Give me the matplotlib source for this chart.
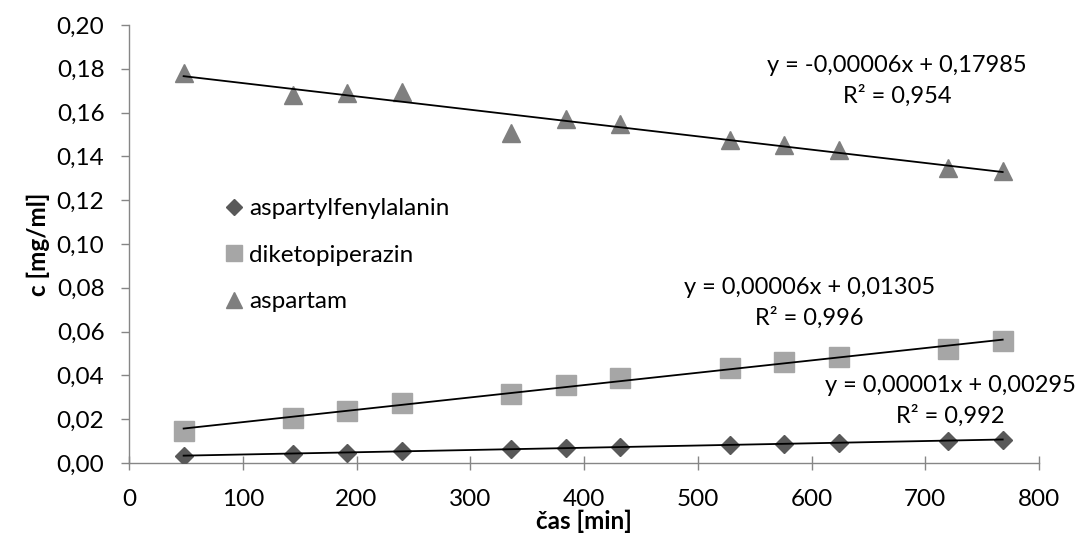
import matplotlib
matplotlib.use("Agg")
import matplotlib.pyplot as plt
import numpy as np

plt.rcParams['font.family'] = ['Lato', 'DejaVu Sans']

time_min = [48, 144, 192, 240, 336, 384, 432, 528, 576, 624, 720, 768]
aspartylfenylalanin = [0.0031, 0.0043, 0.0047, 0.0056, 0.0063, 0.0070, 0.0075, 0.0082, 0.0089, 0.0092, 0.0100, 0.0107]
diketopiperazin = [0.0147, 0.0206, 0.0237, 0.0272, 0.0316, 0.0356, 0.0386, 0.0432, 0.0463, 0.0486, 0.0522, 0.0555]
aspartam = [0.1783, 0.1681, 0.1689, 0.1694, 0.1508, 0.1572, 0.1549, 0.1473, 0.1453, 0.1430, 0.1345, 0.1335]

labels = ["aspartylfenylalanin", "diketopiperazin", "aspartam"]
eq_texts = ["y = 0,00001x + 0,00295\nR² = 0,992",
            "y = 0,00006x + 0,01305\nR² = 0,996",
            "y = -0,00006x + 0,17985\nR² = 0,954"]

xticks = [0, 100, 200, 300, 400, 500, 600, 700, 800]
yticks = [0.00, 0.02, 0.04, 0.06, 0.08, 0.10, 0.12, 0.14, 0.16, 0.18, 0.20]

FS = 17.5
EQ_FS = 17

fig = plt.figure(figsize=(10.78, 5.39), dpi=100)
ax = fig.add_axes([0.1197, 0.141, 0.8442, 0.8126])

series = [aspartylfenylalanin, diketopiperazin, aspartam]
markers = ['D', 's', '^']
colors = ['#595959', '#a6a6a6', '#7f7f7f']
sizes = [9, 14, 13.5]
x = np.array(time_min)
for s, m, c, ms, lab in zip(series, markers, colors, sizes, labels):
    ax.plot(x, s, linestyle='none', marker=m, color=c, markersize=ms, label=lab, zorder=3)
    k, b = np.polyfit(x, s, 1)
    xx = np.array([x.min(), x.max()])
    ax.plot(xx, k * xx + b, color='black', lw=1.3, zorder=4)

# equation labels (data coordinates)
ax.text(722, 0.0283, eq_texts[0], ha='center', va='center', fontsize=EQ_FS, linespacing=1.45)
ax.text(598, 0.0731, eq_texts[1], ha='center', va='center', fontsize=EQ_FS, linespacing=1.45)
ax.text(675, 0.1744, eq_texts[2], ha='center', va='center', fontsize=EQ_FS, linespacing=1.45)

ax.set_xlim(0, 800)
ax.set_ylim(0, 0.20)
ax.set_xticks(xticks)
ax.set_yticks(yticks)
ax.set_xticklabels([str(t) for t in xticks])
ax.set_yticklabels([f"{t:.2f}".replace('.', ',') for t in yticks])
ax.tick_params(axis='both', labelsize=FS, color='#868686', width=1)
ax.tick_params(axis='x', direction='inout', length=9.4, pad=14)
ax.tick_params(axis='y', direction='out', length=5.7, pad=12)
for sp in ['top', 'right']:
    ax.spines[sp].set_visible(False)
for sp in ['left', 'bottom']:
    ax.spines[sp].set_color('#868686')
    ax.spines[sp].set_linewidth(1)

ax.set_xlabel("čas [min]", fontsize=FS, fontweight='bold', labelpad=0)
ax.set_ylabel("c [mg/ml]", fontsize=FS, fontweight='bold', labelpad=5)

leg = ax.legend(loc='upper left', bbox_to_anchor=(0.106, 0.605), frameon=False, fontsize=FS,
                handlelength=0.7, handletextpad=0.27, labelspacing=1.05, borderpad=0,
                borderaxespad=0)
for h, ms in zip(leg.legend_handles, [8, 12, 12]):
    h.set_markersize(ms)

fig.savefig("out.png", dpi=100)
